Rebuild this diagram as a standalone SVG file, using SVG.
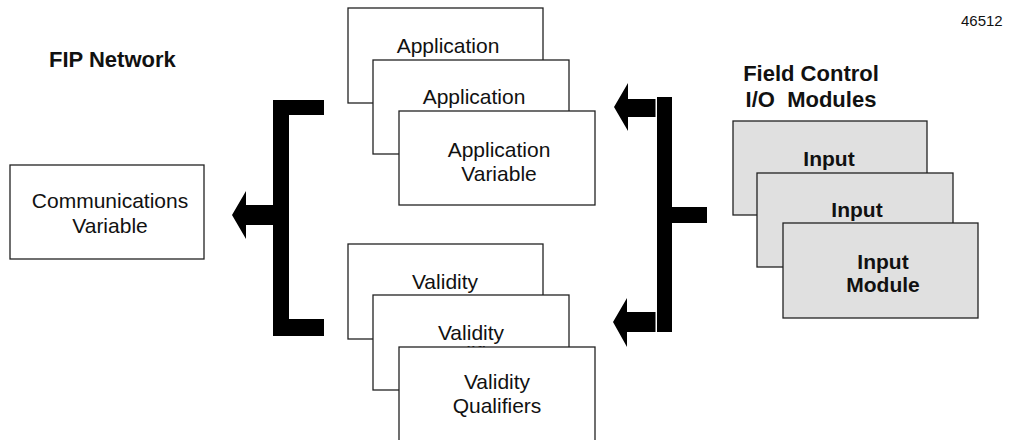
<svg xmlns="http://www.w3.org/2000/svg" width="1016" height="440" viewBox="0 0 1016 440">
<style>
.box{fill:#fff;stroke:#222;stroke-width:1.3}
.gbox{fill:#e0e0e0;stroke:#222;stroke-width:1.3}
.t{font-family:"Liberation Sans",Arial,sans-serif;font-size:21px;fill:#111;text-anchor:middle}
.b{font-family:"Liberation Sans",Arial,sans-serif;font-size:21px;font-weight:bold;fill:#111;text-anchor:middle}
.h{font-family:"Liberation Sans",Arial,sans-serif;font-size:22px;font-weight:bold;fill:#111;white-space:pre}
.n{font-family:"Liberation Sans",Arial,sans-serif;font-size:15px;fill:#111}
.c{fill:#000}
</style>
<rect width="1016" height="440" fill="#fff"/>
<text class="n" x="961" y="26">46512</text>
<text class="h" x="49" y="67">FIP Network</text>
<text class="h" x="811" y="81" text-anchor="middle">Field Control</text>
<text class="h" x="811" y="107" text-anchor="middle">I/O  Modules</text>

<g id="comm-var">
<rect class="box" x="10" y="165" width="194" height="94"/>
<text class="t" x="110" y="208">Communications</text>
<text class="t" x="110" y="233">Variable</text>
</g>

<g id="app1">
<rect class="box" x="348" y="8" width="195" height="95"/>
<text class="t" x="448" y="53">Application</text>
</g>
<g id="app2">
<rect class="box" x="373" y="60" width="196" height="94"/>
<text class="t" x="474" y="104">Application</text>
</g>
<g id="app3">
<rect class="box" x="399" y="111" width="196" height="94"/>
<text class="t" x="499" y="157">Application</text>
<text class="t" x="499" y="181">Variable</text>
</g>

<g id="val1">
<rect class="box" x="348" y="244" width="195" height="95"/>
<text class="t" x="445" y="289">Validity</text>
</g>
<g id="val2">
<rect class="box" x="373" y="295" width="196" height="95"/>
<text class="t" x="471" y="340">Validity</text>
<text class="t" x="471" y="361">Qualifiers</text>
</g>
<g id="val3">
<rect class="box" x="399" y="347" width="196" height="100"/>
<text class="t" x="497" y="389">Validity</text>
<text class="t" x="497" y="413">Qualifiers</text>
</g>

<g id="in1">
<rect class="gbox" x="733" y="121" width="194" height="94"/>
<text class="b" x="829" y="166">Input</text>
</g>
<g id="in2">
<rect class="gbox" x="757" y="173" width="196" height="94"/>
<text class="b" x="857" y="217">Input</text>
</g>
<g id="in3">
<rect class="gbox" x="783" y="223" width="195" height="95"/>
<text class="b" x="883" y="269">Input</text>
<text class="b" x="883" y="292">Module</text>
</g>

<g id="connectors">
<rect class="c" x="273" y="100" width="16" height="236"/>
<rect class="c" x="273" y="100" width="51" height="15"/>
<rect class="c" x="273" y="319" width="51" height="17"/>
<polygon class="c" points="273,205 246,205 246,191 232,215 246,239 246,225 273,225"/>
<rect class="c" x="657" y="97" width="15" height="235"/>
<rect class="c" x="672" y="207" width="35" height="16"/>
<polygon class="c" points="655.5,99 628,99 628,83 614,107 628,131 628,117 655.5,117"/>
<polygon class="c" points="655.5,312 627,312 627,298 613,322 627,347 627,332 655.5,332"/>
</g>
</svg>
